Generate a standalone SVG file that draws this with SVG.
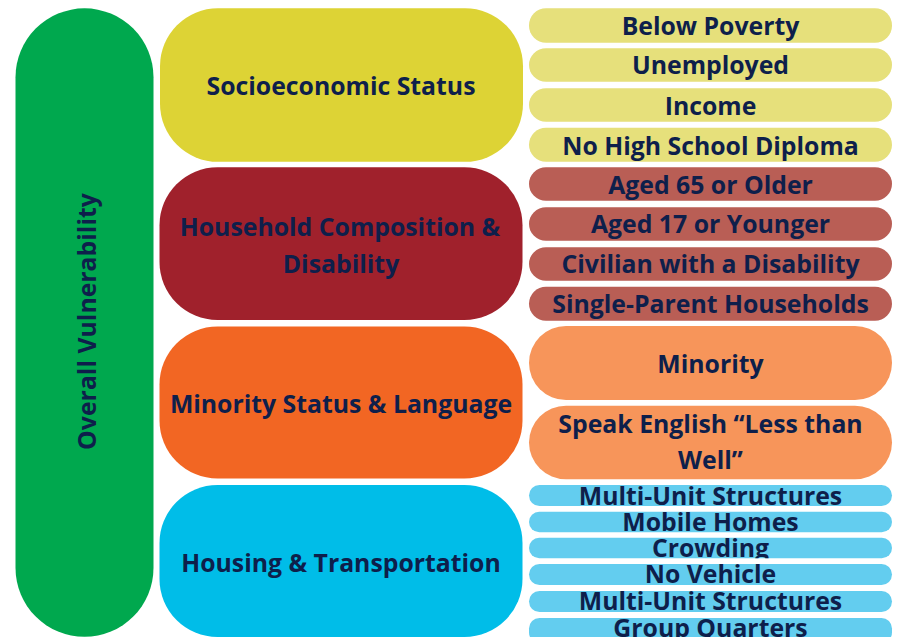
<svg xmlns="http://www.w3.org/2000/svg" width="901" height="637" viewBox="0 0 901 637">
<style>
text{font-family:"Open Sans","Noto Sans","Liberation Sans",sans-serif;font-weight:700;fill:#0e1f4b;text-anchor:middle;font-size:24.8px}
.g{fill:#00a84e}.y{fill:#ddd335}.yl{fill:#e6e07b}.r{fill:#a0212c}.rl{fill:#b95e55}.o{fill:#f26623}.ol{fill:#f7955a}.b{fill:#00bde8}.bl{fill:#63cdef}
</style>
<defs>
<clipPath id="c1"><rect x="529" y="485" width="363" height="21" rx="10.5"/></clipPath>
<clipPath id="c2"><rect x="529" y="511.7" width="363" height="20.5" rx="10.2"/></clipPath>
<clipPath id="c3"><rect x="529" y="537.7" width="363" height="20.5" rx="10.2"/></clipPath>
<clipPath id="c4"><rect x="529" y="564" width="363" height="21" rx="10.5"/></clipPath>
<clipPath id="c5"><rect x="529" y="591" width="363" height="21" rx="10.5"/></clipPath>
<clipPath id="c6"><rect x="529" y="618" width="363" height="25" rx="10.5"/></clipPath>
</defs>
<g id="overall"><rect class="g" x="15.5" y="8.3" width="138" height="628.5" rx="69"/><text transform="translate(96,321.5) rotate(-90)">Overall Vulnerability</text></g>
<g id="socio"><rect class="y" x="160" y="8.3" width="363" height="153.5" rx="58"/><text x="341" y="95">Socioeconomic Status</text></g>
<g id="household"><rect class="r" x="159.5" y="167.3" width="363" height="152.7" rx="58"/><text x="340" y="236">Household Composition &amp;</text><text x="341" y="273">Disability</text></g>
<g id="minority"><rect class="o" x="159.5" y="326.5" width="363" height="152" rx="58"/><text x="341" y="413">Minority Status &amp; Language</text></g>
<g id="housing"><rect class="b" x="159.5" y="485" width="363" height="152" rx="58"/><text x="341" y="572">Housing &amp; Transportation</text></g>
<g id="below-poverty"><rect class="yl" x="529" y="8.3" width="363" height="34.4" rx="17"/><text x="710.5" y="35">Below Poverty</text></g>
<g id="unemployed"><rect class="yl" x="529" y="48.3" width="363" height="33.4" rx="17"/><text x="710.5" y="74">Unemployed</text></g>
<g id="income"><rect class="yl" x="529" y="88.3" width="363" height="33.4" rx="17"/><text x="710.5" y="115">Income</text></g>
<g id="no-diploma"><rect class="yl" x="529" y="127.7" width="363" height="34" rx="17"/><text x="710.5" y="155">No High School Diploma</text></g>
<g id="aged65"><rect class="rl" x="529" y="167.3" width="363" height="33.4" rx="17"/><text x="710.5" y="194">Aged 65 or Older</text></g>
<g id="aged17"><rect class="rl" x="529" y="207.3" width="363" height="33.4" rx="17"/><text x="710.5" y="233.3">Aged 17 or Younger</text></g>
<g id="disability"><rect class="rl" x="529" y="247.3" width="363" height="33.4" rx="17"/><text x="710.5" y="273.3">Civilian with a Disability</text></g>
<g id="single-parent"><rect class="rl" x="529" y="286.7" width="363" height="34" rx="17"/><text x="710.5" y="313.3">Single-Parent Households</text></g>
<g id="minority-item"><rect class="ol" x="529" y="326" width="363" height="74" rx="37"/><text x="710.5" y="373.3">Minority</text></g>
<g id="english"><rect class="ol" x="529" y="405.7" width="363" height="73.6" rx="37"/><text x="710.5" y="433.3">Speak English “Less than</text><text x="710.5" y="469.3">Well”</text></g>
<g id="multi-unit"><rect class="bl" x="529" y="485" width="363" height="21" rx="10.5"/><text x="710.5" y="505" clip-path="url(#c1)">Multi-Unit Structures</text></g>
<g id="mobile"><rect class="bl" x="529" y="511.7" width="363" height="20.5" rx="10.2"/><text x="710.5" y="530.7" clip-path="url(#c2)">Mobile Homes</text></g>
<g id="crowding"><rect class="bl" x="529" y="537.7" width="363" height="20.5" rx="10.2"/><text x="710.5" y="557.3" clip-path="url(#c3)">Crowding</text></g>
<g id="no-vehicle"><rect class="bl" x="529" y="564" width="363" height="21" rx="10.5"/><text x="710.5" y="583.3" clip-path="url(#c4)">No Vehicle</text></g>
<g id="multi-unit-2"><rect class="bl" x="529" y="591" width="363" height="21" rx="10.5"/><text x="710.5" y="610" clip-path="url(#c5)">Multi-Unit Structures</text></g>
<g id="group-quarters"><rect class="bl" x="529" y="618" width="363" height="25" rx="10.5"/><text x="710.5" y="637" clip-path="url(#c6)">Group Quarters</text></g>
<g id="connectors"/>
</svg>
